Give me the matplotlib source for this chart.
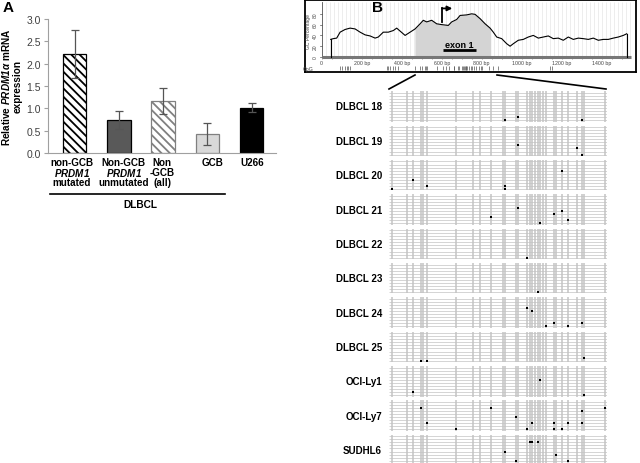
import numpy as np
import matplotlib
matplotlib.use("Agg")
import matplotlib.pyplot as plt
from matplotlib.lines import Line2D
from matplotlib.transforms import offset_copy

plt.rcParams['font.family'] = ['Liberation Sans', 'DejaVu Sans']
plt.rcParams['mathtext.fontset'] = 'custom'
plt.rcParams['mathtext.rm'] = 'Liberation Sans'
plt.rcParams['mathtext.it'] = 'Liberation Sans:italic'
plt.rcParams['mathtext.bf'] = 'Liberation Sans:bold'
plt.rcParams['mathtext.bfit'] = 'Liberation Sans:italic:bold'
plt.rcParams['hatch.linewidth'] = 1.3

# ---------------- data: panel A ----------------
categories = ["non-GCB\n$\\mathbfit{PRDM1}$\nmutated",
              "Non-GCB\n$\\mathbfit{PRDM1}$\nunmutated",
              "Non\n-GCB\n(all)",
              "GCB",
              "U266"]
means = [2.22, 0.74, 1.17, 0.43, 1.01]
errors = [0.53, 0.20, 0.29, 0.25, 0.10]
yticks_a = [0.0, 0.5, 1.0, 1.5, 2.0, 2.5, 3.0]
group_label = "DLBCL"

# ---------------- data: panel B (GC content) ----------------
gc_bp = [45, 58, 75, 92, 117, 142, 167, 192, 217, 242, 267, 283, 308, 333, 358,
         375, 392, 417, 442, 467, 492, 508, 525, 550, 575, 600, 633, 650, 675,
         692, 725, 750, 767, 792, 817, 842, 858, 875, 900, 925, 942, 958, 983,
         1008, 1033, 1058, 1083, 1108, 1133, 1158, 1183, 1208, 1233, 1258, 1283,
         1308, 1333, 1358, 1383, 1408, 1433, 1458, 1483, 1508, 1525]
gc_pct = [32.6, 34, 35, 46, 51, 53.5, 52, 46, 41, 39, 35, 37, 46, 46, 49,
          53.5, 48, 40, 46, 52, 61.5, 68, 65, 68, 61.5, 60, 58.5, 65, 69.5,
          77, 78, 80, 79, 71, 61.5, 53.5, 46, 37, 34, 24.6, 20, 24.6, 31,
          32.6, 37, 40, 35, 37, 39, 34, 35, 31, 37, 32.6, 35,
          34, 32.6, 35, 31, 32.6, 32.6, 35, 37, 40, 43]
island = (466, 845)
exon1 = (608, 771)
tss_bp = 603
gc_xticks = [200, 400, 600, 800, 1000, 1200, 1400]
gc_yticks = [0, 20, 40, 60, 80]

cpg_meth = [465, 491, 502, 516, 519, 526, 577, 607, 619, 638, 659, 663, 681,
            685, 700, 705, 709, 714, 719, 723, 728, 734, 748, 751, 761, 772,
            788, 797, 800, 837]
cpg_other = [92, 100, 117, 125, 133, 142, 325, 333, 342, 358, 367, 383,
             857, 883, 1143, 1151]

# ---------------- data: panel B (methylation) ----------------
samples = ["DLBCL 18", "DLBCL 19", "DLBCL 20", "DLBCL 21", "DLBCL 22",
           "DLBCL 23", "DLBCL 24", "DLBCL 25", "OCI-Ly1", "OCI-Ly7", "SUDHL6"]
n_clones = 10
# (sample index, clone row, CpG index) of methylated sites
meth_sample = [0, 0, 0,
               1, 1, 1,
               2, 2, 2, 2, 2, 2,
               3, 3, 3, 3, 3, 3,
               4,
               5,
               6, 6, 6, 6, 6, 6,
               7, 7, 7,
               8, 8, 8,
               9, 9, 9, 9, 9, 9, 9, 9, 9, 9, 9, 9, 9, 9,
               10, 10, 10, 10, 10, 10, 10, 10, 10, 10]
meth_row = [9, 8, 9,
            6, 7, 9,
            3, 6, 8, 9, 8, 9,
            4, 7, 9, 6, 5, 8,
            9,
            9,
            3, 4, 9, 8, 9, 8,
            9, 9, 8,
            8, 4, 9,
            2, 2, 7, 9, 5, 7, 9, 7, 9, 9, 7, 3, 7, 2,
            2, 2, 2, 5, 6, 8, 9, 8, 9, 9]
meth_cpg = [11, 13, 27,
            13, 26, 27,
            24, 2, 5, 0, 11, 11,
            13, 9, 19, 22, 24, 25,
            14,
            18,
            14, 16, 21, 22, 25, 27,
            3, 5, 28,
            2, 19, 28,
            3, 9, 5, 6, 12, 16, 14, 22, 22, 24, 25, 27, 27, 29,
            15, 16, 18, 11, 23, 25, 9, 12, 15, 19]

# ---------------- figure ----------------
W, H = 640, 464
fig = plt.figure(figsize=(W / 100, H / 100), dpi=100)


def rect(x0, y0, x1, y1):
    return [x0 / W, 1 - y1 / H, (x1 - x0) / W, (y1 - y0) / H]


def fx(x):
    return x / W


def fy(y):
    return 1 - y / H


# ---------------- panel A ----------------
ax = fig.add_axes(rect(48, 20, 276, 154))
x = np.arange(len(categories))
faces = ['white', '#595959', 'white', '#d9d9d9', 'black']
edges = ['black', 'black', '#808080', '#808080', 'black']
hatches = ['\\\\\\\\', None, '\\\\\\\\', None, None]
for i in range(len(categories)):
    ax.bar(x[i], means[i], width=0.53, color=faces[i], edgecolor=edges[i],
           hatch=hatches[i], linewidth=0.9, zorder=2)
ax.errorbar(x, means, yerr=errors, fmt='none', ecolor='#555555',
            elinewidth=0.9, capsize=3, capthick=0.9, zorder=3)
ax.set_xlim(-0.6, 4.55)
ax.set_ylim(0, 3.0)
ax.set_yticks(yticks_a)
ax.set_yticklabels([f"{v:.1f}" for v in yticks_a], fontsize=7.5, color='#404040')
ax.set_xticks([])
for s in ['top', 'right']:
    ax.spines[s].set_visible(False)
for s in ['left', 'bottom']:
    ax.spines[s].set_color('#a0a0a0')
    ax.spines[s].set_linewidth(0.8)
ax.tick_params(axis='y', length=3, width=0.8, color='#a0a0a0', pad=2)
ax.set_ylabel("Relative $\\mathbfit{PRDM1\\alpha}$ mRNA\nexpression",
              fontsize=7.2, fontweight='bold', labelpad=3, linespacing=1.1)
trans = ax.get_xaxis_transform()
label_shift_px = [-3, 5, -1, 5, 1]
for i, lab in enumerate(categories):
    tr = offset_copy(trans, fig=fig, x=label_shift_px[i] * 0.72, units='points')
    for j, line in enumerate(lab.split("\n")):
        ypx = 163 + 10.2 * j
        ax.text(x[i], (154 - ypx) / 134, line, transform=tr, ha='center',
                va='center', fontsize=7.1, fontweight='bold', clip_on=False)

fig.add_artist(Line2D([fx(50), fx(225)], [fy(195), fy(195)], color='black', lw=1.2))
fig.text(fx(140), fy(205), group_label, ha='center', va='center',
         fontsize=7.3, fontweight='bold')

fig.text(fx(3), fy(8), "A", fontsize=11, fontweight='bold', va='center')
fig.text(fx(372), fy(8), "B", fontsize=11, fontweight='bold', va='center')

# ---------------- panel B: GC content ----------------
g = fig.add_axes(rect(305, 1, 636, 73))
g.set_xlim(-83.5, 1571.5)
g.set_ylim(-27.8, 105.6)
g.set_xticks([])
g.set_yticks([])
for s in g.spines.values():
    s.set_linewidth(1.3)
    s.set_color('black')
g.vlines(np.arange(0, 1560, 20), 0, 102, color='#e6e6e6', lw=0.5, zorder=0)
gb = np.array(gc_bp, dtype=float)
gp = np.array(gc_pct, dtype=float)
fine_x = np.linspace(island[0], island[1], 200)
fine_y = np.interp(fine_x, gb, gp)
g.fill_between(fine_x, 0, fine_y, color='#d4d4d4', lw=0, zorder=1)
g.plot(gb, gp, color='black', lw=0.8, zorder=3)
g.plot([gb[0], gb[0]], [0, gp[0]], color='black', lw=0.8, zorder=3)
g.plot([gb[-1], gb[-1]], [0, gp[-1]], color='black', lw=0.8, zorder=3)
# y axis
g.plot([0, 0], [0, 101], color='#555555', lw=0.6, zorder=2)
for t in gc_yticks:
    g.plot([-10, 0], [t, t], color='#555555', lw=0.5)
    g.text(-30, t, str(t), rotation=90, fontsize=3.6, ha='center', va='center',
           color='#444444')
g.text(-68, 50, "GC Percentage", rotation=90, fontsize=3.6, ha='center',
       va='center', color='#444444')
# x axis
g.plot([0, 1545], [0, 0], color='#777777', lw=2.2, zorder=2, solid_capstyle='butt')
g.vlines(np.arange(0, 1545, 50), -4, 0, color='#777777', lw=0.5)
g.text(0, -10, "0", fontsize=3.8, ha='center', va='center', color='#444444')
for t in gc_xticks:
    g.text(t, -10, f"{t} bp", fontsize=3.8, ha='center', va='center',
           color='#444444')
g.text(-70, -22, "CpG", fontsize=3.8, ha='center', va='center', color='#444444')
g.vlines(cpg_other + cpg_meth, -25, -17, color='#555555', lw=0.5)
# exon and TSS
g.plot(list(exon1), [13.5, 13.5], color='black', lw=2.0, solid_capstyle='butt', zorder=4)
g.text(np.mean(exon1), 24, "exon 1", fontsize=6.5, fontweight='bold',
       ha='center', va='center', zorder=4)
g.plot([tss_bp, tss_bp], [65, 90], color='black', lw=1.3, zorder=4)
g.annotate('', xy=(tss_bp + 50, 90), xytext=(tss_bp - 1, 90),
           arrowprops=dict(arrowstyle='-|>', lw=1.3, color='black',
                           mutation_scale=7, shrinkA=0, shrinkB=0), zorder=4)

# connecting lines
fig.add_artist(Line2D([fx(415), fx(389)], [fy(76), fy(90)], color='black', lw=1.2))
fig.add_artist(Line2D([fx(497), fx(606)], [fy(76), fy(90)], color='black', lw=1.2))

# ---------------- panel B: methylation ----------------
m = fig.add_axes(rect(389, 88, 607, 464))
m.set_xlim(460, 840)
m.set_ylim(464, 88)
m.axis('off')
for i, name in enumerate(samples):
    c = 107.5 + 34.35 * i
    rows = c + (np.arange(n_clones) - 4.5) * 3.05
    m.hlines(rows, 460, 840, color='#cdcdcd', lw=0.6, zorder=1)
    m.vlines(cpg_meth, rows[0] - 1.5, rows[-1] + 1.5, color='#c4c4c4',
             lw=1.1, zorder=2)
    fig.text(fx(382), fy(c), name, ha='right', va='center', fontsize=7,
             fontweight='bold')
ms = np.array(meth_sample)
mr = np.array(meth_row)
mc = np.array(meth_cpg)
dx = np.array(cpg_meth)[mc]
dy = 107.5 + 34.35 * ms + (mr - 4.5) * 3.05
m.scatter(dx, dy, marker='s', s=2.5, color='black', zorder=3, linewidths=0)

fig.savefig("out.png", dpi=100)
